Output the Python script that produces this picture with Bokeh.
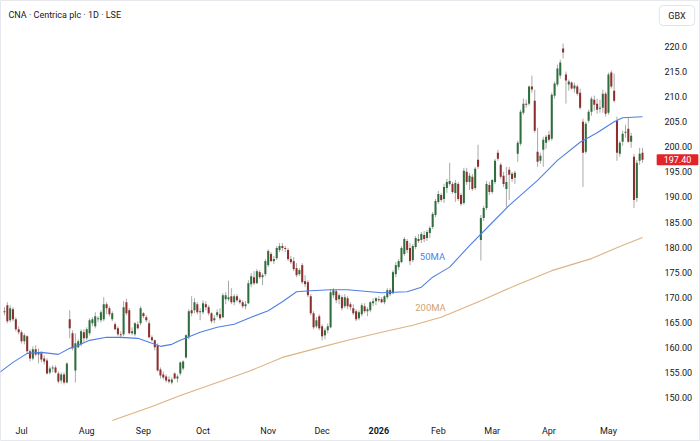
from bokeh.plotting import figure
from bokeh.models import Range1d, Label, ColumnDataSource
from bokeh.embed import file_html
from bokeh.resources import INLINE

# ---------------- data ----------------
opens = [
    167.2,168.4,165.4,167.6,165.6,163.6,163.0,161.2,162.2,159.2,
    157.8,159.6,158.6,158.8,157.8,157.4,155.0,155.8,156.0,154.8,
    153.4,154.6,153.0,165.6,162.8,155.4,160.0,160.6,163.0,161.8,
    162.8,164.8,164.2,165.6,165.4,165.6,168.6,167.8,165.6,164.6,
    163.8,162.6,162.6,169.0,167.4,162.8,162.6,164.6,164.8,166.8,
    166.0,164.8,162.0,161.4,160.4,155.6,154.6,154.2,153.6,153.0,
    154.8,153.8,154.8,155.8,158.0,162.0,167.4,167.4,168.6,167.0,
    167.0,168.6,168.0,166.8,165.4,166.4,166.6,166.0,169.6,169.6,
    170.2,169.0,170.2,169.4,169.0,168.2,168.8,172.6,174.0,172.8,
    175.0,174.0,174.6,176.4,178.6,177.2,177.8,179.4,180.2,179.8,
    179.4,177.6,177.2,175.8,174.6,176.4,173.2,173.0,170.2,166.8,
    164.2,166.2,164.2,162.4,163.4,164.0,170.4,171.2,169.6,170.0,
    168.2,169.8,168.6,167.8,167.2,165.8,166.6,168.2,167.2,167.4,
    168.8,169.2,169.6,169.6,169.0,170.0,171.4,170.8,174.6,176.0,
    177.0,178.6,181.2,179.8,177.4,180.0,181.6,181.4,182.4,181.8,
    182.8,184.0,186.4,189.0,190.4,189.6,191.8,192.6,192.6,190.8,
    192.6,190.4,188.8,195.0,193.0,194.0,191.8,197.4,181.4,185.8,
    187.8,192.4,191.0,193.0,198.8,196.4,194.2,191.6,195.4,194.6,
    193.8,198.6,200.6,206.8,208.6,208.6,212.0,209.2,199.0,197.2,
    199.4,200.8,202.4,201.6,210.2,212.4,214.2,219.6,214.4,212.4,
    212.8,211.6,212.0,210.8,205.0,199.0,205.2,207.0,209.4,208.6,
    207.6,207.8,210.6,206.8,214.8,211.2,205.2,198.6,201.0,202.8,
    203.6,201.0,198.0,189.8,197.2,198.8,
]
highs = [
    168.0,169.0,168.4,168.0,166.0,164.2,163.4,162.8,162.4,159.6,
    160.2,160.4,159.8,159.2,158.4,157.8,156.2,156.4,156.4,155.2,
    155.0,155.0,157.0,167.4,163.4,162.8,161.6,163.6,163.6,164.0,
    165.8,166.0,167.0,166.2,167.4,170.0,169.0,168.2,167.2,165.0,
    164.2,163.2,169.2,169.7,167.8,164.0,165.0,165.2,168.2,167.0,
    166.4,165.4,162.4,161.6,160.8,156.0,155.2,154.6,154.2,154.0,
    155.0,154.6,157.2,157.4,162.6,167.6,170.2,169.8,169.0,167.8,
    169.4,169.2,168.4,167.0,166.4,167.6,167.8,170.8,171.0,173.3,
    171.8,170.6,170.6,169.8,169.4,169.2,173.4,174.8,175.2,175.6,
    175.4,174.8,177.6,179.6,179.0,178.2,180.2,180.8,180.8,180.2,
    179.8,178.2,178.0,176.8,175.8,176.8,174.4,173.4,170.6,167.2,
    166.0,166.6,164.6,163.8,164.8,171.6,171.8,171.6,170.8,170.4,
    170.6,170.2,169.0,168.6,167.6,167.4,168.8,168.8,168.0,169.2,
    169.8,170.0,170.2,170.0,170.4,171.8,171.8,175.4,177.0,177.6,
    180.2,182.0,181.6,180.8,180.6,182.2,182.6,183.0,183.2,183.4,
    184.2,187.0,189.6,191.2,190.8,192.6,193.6,196.8,193.0,193.4,
    193.0,190.8,195.8,195.8,194.8,194.6,196.0,200.4,186.4,188.2,
    193.2,193.0,193.6,197.6,199.4,196.8,195.0,196.0,196.0,195.0,
    195.2,201.2,207.4,209.6,209.4,212.2,214.2,211.4,203.8,198.8,
    202.0,202.4,203.2,210.8,213.0,216.4,217.4,220.6,215.0,213.4,
    213.0,212.8,212.4,211.6,205.6,205.0,207.4,210.0,210.2,209.6,
    209.4,211.4,211.0,214.8,215.2,214.6,206.0,201.2,203.2,204.4,
    205.8,202.8,198.6,197.4,199.8,199.8,
]
lows = [
    166.4,164.8,165.0,165.2,163.2,162.6,160.8,160.6,158.8,157.2,
    157.4,158.2,156.8,157.0,156.6,154.6,154.6,155.0,154.8,152.8,
    152.8,152.6,152.8,161.8,159.4,153.0,159.8,160.2,161.0,161.4,
    162.4,164.2,163.8,165.0,165.0,165.2,166.6,166.2,165.2,163.4,
    162.2,161.8,162.2,166.4,162.6,162.4,162.2,163.6,164.4,165.8,
    165.0,161.8,161.2,159.4,155.2,153.8,153.6,153.0,152.8,152.6,
    153.6,153.0,154.4,155.4,157.8,161.6,166.2,166.8,166.6,165.4,
    166.6,167.4,166.4,164.8,164.8,166.0,165.4,165.8,168.6,169.2,
    168.6,168.4,169.0,168.6,167.8,167.6,168.6,172.0,172.4,172.6,
    173.6,172.4,174.2,176.0,177.0,176.6,177.4,179.0,179.2,179.0,
    177.2,176.6,175.2,174.0,174.2,172.6,172.0,170.0,166.4,163.6,
    163.8,163.4,161.4,161.6,162.8,163.8,169.8,168.8,168.6,167.4,
    167.8,167.6,167.4,166.4,165.2,165.4,166.2,166.8,166.2,167.0,
    168.2,168.4,169.0,168.8,168.6,169.6,170.2,170.6,174.0,175.4,
    176.8,178.2,178.8,176.4,177.0,179.6,180.8,180.8,181.0,181.2,
    181.8,183.6,186.0,188.6,189.0,188.8,190.8,192.2,190.6,189.0,
    189.2,188.2,188.4,192.4,191.4,191.2,191.4,195.6,177.3,185.2,
    187.4,190.4,190.6,192.6,197.2,193.6,192.0,188.0,189.4,193.0,
    192.6,197.0,200.2,206.4,207.8,208.2,210.8,202.8,196.0,196.6,
    196.0,199.6,201.0,201.2,209.6,212.0,213.6,217.6,208.6,211.2,
    211.4,210.8,210.2,207.4,192.0,198.6,204.8,206.2,207.2,206.6,
    206.8,206.8,206.0,206.4,211.6,208.8,197.2,198.0,200.2,201.8,
    200.8,199.8,187.8,189.0,196.4,196.8,
]
closes = [
    167.0,165.2,167.8,165.6,163.6,163.0,161.2,162.4,159.2,157.8,
    159.6,158.6,159.0,157.6,157.2,154.8,155.8,156.0,155.0,153.2,
    154.6,153.0,156.8,163.8,159.8,160.8,161.2,163.2,161.8,163.6,
    165.4,165.6,166.2,165.8,167.0,168.6,167.8,166.6,166.8,163.6,
    162.6,162.4,168.0,166.8,162.8,163.2,164.8,163.8,167.8,166.2,
    165.4,162.0,161.4,160.0,155.4,154.4,154.0,153.4,153.2,153.6,
    153.8,154.2,157.0,157.2,162.4,167.2,166.8,169.0,167.0,167.2,
    168.8,168.0,166.8,165.2,165.8,167.0,165.8,170.4,170.4,170.0,
    169.0,170.2,169.4,169.0,168.2,168.6,172.8,174.2,172.8,175.2,
    174.0,174.4,177.2,179.2,177.2,177.6,179.8,180.2,179.8,179.6,
    177.6,177.0,175.6,174.4,175.4,173.0,172.6,170.4,166.8,164.0,
    165.4,163.8,162.2,163.4,164.2,171.0,171.4,169.4,170.4,167.8,
    170.0,168.2,168.0,166.8,165.6,167.0,168.4,167.2,167.6,169.0,
    169.2,169.8,169.4,169.0,170.2,171.4,170.6,175.0,176.4,177.2,
    179.8,181.6,179.4,177.2,180.2,181.8,181.2,182.6,181.6,183.0,
    183.8,186.6,189.2,190.6,189.4,192.0,193.0,193.2,191.0,192.8,
    189.6,188.6,195.2,193.0,194.2,191.6,195.6,196.0,185.8,187.8,
    192.6,191.0,193.4,197.2,197.6,194.0,192.6,193.0,194.4,193.6,
    194.8,200.8,207.0,208.6,208.4,212.0,211.4,203.2,197.0,198.2,
    201.4,202.0,201.4,210.4,212.6,215.6,216.8,218.8,213.2,213.0,
    211.6,212.2,210.6,207.8,198.8,204.6,207.0,209.6,208.4,207.4,
    207.8,210.6,206.6,214.4,212.0,209.2,198.8,200.8,202.6,203.0,
    201.0,202.2,189.4,196.8,198.6,197.4,
]

ma50_x = [-2, 3, 8, 13, 19, 23, 26, 30, 36, 41, 47, 52, 55, 59, 62, 69, 75, 81, 87, 93,
          98, 103, 108, 115, 121, 133, 142, 147, 151, 154, 157, 164, 171, 178, 182, 188,
          195, 203, 209, 215, 218, 225]
ma50_v = [154.9, 157.0, 158.8, 159.0, 158.6, 159.8, 160.4, 161.4, 162.0, 162.0, 161.8,
          160.8, 160.2, 160.6, 161.4, 163.0, 164.0, 164.6, 166.0, 167.3, 169.1, 171.1,
          171.3, 171.5, 171.5, 170.9, 171.1, 172.0, 174.0, 175.0, 176.0, 180.3, 184.3,
          188.3, 190.3, 193.3, 197.3, 200.9, 202.8, 205.0, 205.8, 206.0]

ma200_x = [38, 52, 62, 68, 87, 98, 110, 121, 133, 144, 154, 168, 180, 193, 207, 217, 225]
ma200_v = [145.4, 148.2, 150.4, 151.6, 155.4, 158.0, 159.8, 161.4, 163.0, 164.4, 166.0,
           169.3, 172.3, 175.3, 177.7, 180.1, 181.9]

month_idx = [6, 29, 49, 70, 93, 112, 132, 153, 172, 192, 213]
month_labels = ["Jul", "Aug", "Sep", "Oct", "Nov", "Dec", "2026", "Feb", "Mar", "Apr", "May"]

y_ticks = [150, 155, 160, 165, 170, 175, 180, 185, 190, 195, 200, 205, 210, 215, 220]
y_tick_labels = ["150.00", "155.00", "160.00", "165.00", "170.00", "175.00", "180.00",
                 "185.00", "190.00", "195.00", "200.00", "205.0", "210.0", "215.0", "220.0"]

last_price_text = "197.40"
title_text = "CNA \u00b7 Centrica plc \u00b7 1D \u00b7 LSE"

# ---------------- layout (frame covers the whole canvas) ----------------
W, H = 700, 441
PX_X = (642 - 4) / (len(closes) - 1)
PX_Y = 351 / 70.0
x_start = -4 / PX_X
x_end = (W - 4) / PX_X
y_end = 220 + 46 / PX_Y
y_start = 220 - (H - 46) / PX_Y

def px_to_x(px):
    return x_start + px / PX_X

def px_to_y(py):
    return y_end - py / PX_Y

FONT = "Roboto"
FS = "9px"
TXT = "#131722"
GREEN = "#2f6e3c"
RED = "#8c2f2f"
WICK = "#a9a9a9"
BLUE = "#4f7fe6"
TAN = "#dcb283"

idx = list(range(len(closes)))
colors = [GREEN if c >= o else RED for o, c in zip(opens, closes)]
src = ColumnDataSource(dict(x=idx, o=opens, h=highs, l=lows, c=closes, col=colors))

p = figure(width=W, height=H, x_range=Range1d(x_start, x_end), y_range=Range1d(y_start, y_end),
           output_backend="svg", toolbar_location=None,
           min_border_left=0, min_border_right=0, min_border_top=0, min_border_bottom=0)
p.xaxis.visible = False
p.yaxis.visible = False
p.xgrid.visible = False
p.ygrid.visible = False
p.outline_line_color = "#e6e8ee"
p.background_fill_color = "white"
p.border_fill_color = "white"

p.segment(x0="x", y0="l", x1="x", y1="h", source=src, line_color=WICK, line_width=1)
p.vbar(x="x", width=0.72, top="o", bottom="c", source=src, fill_color="col", line_color=None)

p.line(ma50_x, ma50_v, line_color=BLUE, line_width=1.1)
p.line(ma200_x, ma200_v, line_color=TAN, line_width=1.1)

# price scale labels (right)
p.text(x=[px_to_x(664)] * len(y_ticks), y=y_ticks, text=y_tick_labels, text_align="left",
       text_baseline="middle", text_font={"value": FONT}, text_font_size={"value": FS},
       text_color=TXT)

# time scale labels (bottom)
reg = [(t, s) for t, s in zip(month_idx, month_labels) if s != "2026"]
yr = [(t, s) for t, s in zip(month_idx, month_labels) if s == "2026"]
p.text(x=[t for t, _ in reg], y=[px_to_y(430)] * len(reg), text=[s for _, s in reg],
       text_align="center", text_baseline="middle", text_font={"value": FONT},
       text_font_size={"value": FS}, text_color=TXT)
p.text(x=[t for t, _ in yr], y=[px_to_y(430)] * len(yr), text=[s for _, s in yr],
       text_align="center", text_baseline="middle", text_font={"value": FONT},
       text_font_size={"value": FS}, text_font_style="bold", text_color=TXT)

# title
p.add_layout(Label(x=px_to_x(8), y=px_to_y(14), text=title_text, text_align="left",
                   text_baseline="middle", text_font=FONT, text_font_size=FS, text_color=TXT))

# currency box
p.add_layout(Label(x=px_to_x(676.5), y=px_to_y(15), text="GBX", text_align="center",
                   text_baseline="middle", text_font=FONT, text_font_size=FS, text_color=TXT,
                   border_line_color="#e0e3eb", border_line_width=1, background_fill_color="white",
                   padding=dict(left=9, right=9, top=5, bottom=5), border_radius=4))

# last price tag
p.add_layout(Label(x=px_to_x(677), y=closes[-1], text=last_price_text, text_align="center",
                   text_baseline="middle", text_font=FONT, text_font_size=FS, text_color="white",
                   background_fill_color="#e3232a",
                   padding=dict(left=7, right=7, top=2, bottom=2), border_radius=1))

# MA labels
p.add_layout(Label(x=px_to_x(432), y=px_to_y(256), text="50MA", text_align="center",
                   text_baseline="middle", text_font=FONT, text_font_size="9.5px", text_color=BLUE))
p.add_layout(Label(x=px_to_x(430), y=px_to_y(307), text="200MA", text_align="center",
                   text_baseline="middle", text_font=FONT, text_font_size="9.5px", text_color="#d2a470"))

open("out.html", "w").write(file_html(p, INLINE))
